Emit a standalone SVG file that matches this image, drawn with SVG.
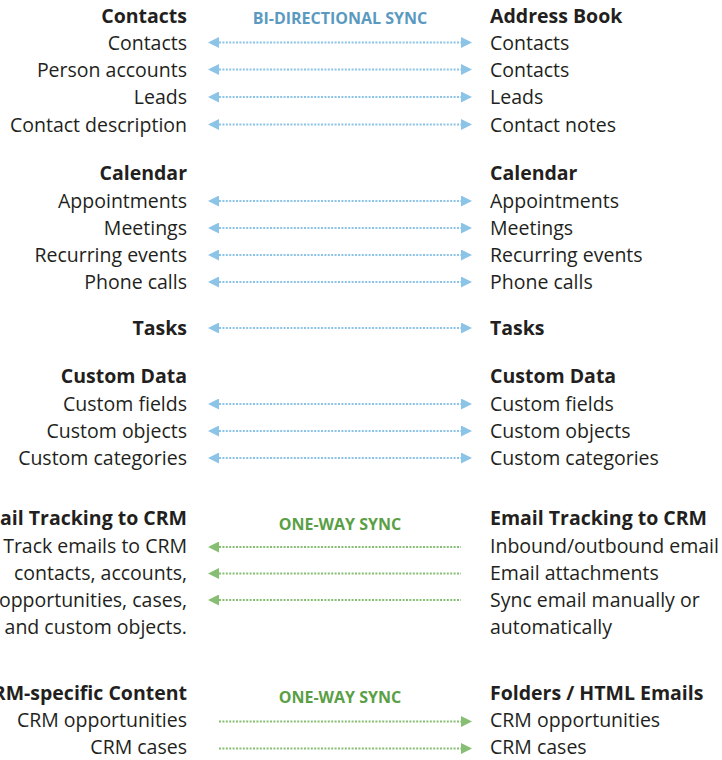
<svg xmlns="http://www.w3.org/2000/svg" width="722" height="760" viewBox="0 0 722 760">
<defs>
<style>
.t{font-family:"Open Sans","Noto Sans","Liberation Sans",sans-serif;font-size:19.5px;fill:#231f20}
.h{font-weight:bold}
.l{text-anchor:end}
.lab{font-family:"Open Sans","Noto Sans","Liberation Sans",sans-serif;font-size:16px;font-weight:bold;text-anchor:middle}
.blue{fill:#5b9ac0}
.green{fill:#5a9f45}
.bl{stroke:#8cc4e8;stroke-width:2.2;stroke-dasharray:2 1.4;fill:none}
.gl{stroke:#86bf73;stroke-width:2.2;stroke-dasharray:2 1.4;fill:none}
.bi{marker-start:url(#ab);marker-end:url(#ab)}
.gL{marker-start:url(#ag)}
.gR{marker-end:url(#ag)}
</style>
<marker id="ab" markerUnits="userSpaceOnUse" markerWidth="11" markerHeight="11" refX="0" refY="5.5" orient="auto-start-reverse"><path d="M0,0 L11,5.5 L0,11 z" fill="#8cc4e8"/></marker>
<marker id="ag" markerUnits="userSpaceOnUse" markerWidth="11" markerHeight="11" refX="0" refY="5.5" orient="auto-start-reverse"><path d="M0,0 L11,5.5 L0,11 z" fill="#86bf73"/></marker>
</defs>
<rect width="722" height="760" fill="#ffffff"/>

<g id="labels">
<text class="lab blue" x="340" y="23.5">BI-DIRECTIONAL SYNC</text>
<text class="lab green" x="340" y="530">ONE-WAY SYNC</text>
<text class="lab green" x="340" y="703">ONE-WAY SYNC</text>
</g>

<g id="contacts-left">
<text class="t h l" x="187" y="23">Contacts</text>
<text class="t l" x="187" y="50">Contacts</text>
<text class="t l" x="187" y="77">Person accounts</text>
<text class="t l" x="187" y="104">Leads</text>
<text class="t l" x="187" y="131.5">Contact description</text>
</g>
<g id="contacts-right">
<text class="t h" x="490" y="23">Address Book</text>
<text class="t" x="490" y="50">Contacts</text>
<text class="t" x="490" y="77">Contacts</text>
<text class="t" x="490" y="104">Leads</text>
<text class="t" x="490" y="131.5">Contact notes</text>
</g>

<g id="calendar-left">
<text class="t h l" x="187" y="180">Calendar</text>
<text class="t l" x="187" y="208">Appointments</text>
<text class="t l" x="187" y="235">Meetings</text>
<text class="t l" x="187" y="262">Recurring events</text>
<text class="t l" x="187" y="289">Phone calls</text>
</g>
<g id="calendar-right">
<text class="t h" x="490" y="180">Calendar</text>
<text class="t" x="490" y="208">Appointments</text>
<text class="t" x="490" y="235">Meetings</text>
<text class="t" x="490" y="262">Recurring events</text>
<text class="t" x="490" y="289">Phone calls</text>
</g>

<g id="tasks-left">
<text class="t h l" x="187" y="335">Tasks</text>
</g>
<g id="tasks-right">
<text class="t h" x="490" y="335">Tasks</text>
</g>

<g id="custom-left">
<text class="t h l" x="187" y="383">Custom Data</text>
<text class="t l" x="187" y="411">Custom fields</text>
<text class="t l" x="187" y="438">Custom objects</text>
<text class="t l" x="187" y="465">Custom categories</text>
</g>
<g id="custom-right">
<text class="t h" x="490" y="383">Custom Data</text>
<text class="t" x="490" y="411">Custom fields</text>
<text class="t" x="490" y="438">Custom objects</text>
<text class="t" x="490" y="465">Custom categories</text>
</g>

<g id="email-left">
<text class="t h l" x="187" y="525">Email Tracking to CRM</text>
<text class="t l" x="187" y="553">Track emails to CRM</text>
<text class="t l" x="187" y="580">contacts, accounts,</text>
<text class="t l" x="187" y="607">opportunities, cases,</text>
<text class="t l" x="187" y="634">and custom objects.</text>
</g>
<g id="email-right">
<text class="t h" x="490" y="525">Email Tracking to CRM</text>
<text class="t" x="490" y="553">Inbound/outbound email</text>
<text class="t" x="490" y="580">Email attachments</text>
<text class="t" x="490" y="607">Sync email manually or</text>
<text class="t" x="490" y="634">automatically</text>
</g>

<g id="crm-left">
<text class="t h l" x="187" y="700">CRM-specific Content</text>
<text class="t l" x="187" y="727">CRM opportunities</text>
<text class="t l" x="187" y="754">CRM cases</text>
</g>
<g id="crm-right">
<text class="t h" x="490" y="700">Folders / HTML Emails</text>
<text class="t" x="490" y="727">CRM opportunities</text>
<text class="t" x="490" y="754">CRM cases</text>
</g>

<g id="connectors">
<line class="bl bi" x1="219" y1="42.5" x2="461" y2="42.5"/>
<line class="bl bi" x1="219" y1="69.5" x2="461" y2="69.5"/>
<line class="bl bi" x1="219" y1="97" x2="461" y2="97"/>
<line class="bl bi" x1="219" y1="124.5" x2="461" y2="124.5"/>
<line class="bl bi" x1="219" y1="201" x2="461" y2="201"/>
<line class="bl bi" x1="219" y1="228" x2="461" y2="228"/>
<line class="bl bi" x1="219" y1="255" x2="461" y2="255"/>
<line class="bl bi" x1="219" y1="282" x2="461" y2="282"/>
<line class="bl bi" x1="219" y1="328" x2="461" y2="328"/>
<line class="bl bi" x1="219" y1="404" x2="461" y2="404"/>
<line class="bl bi" x1="219" y1="431" x2="461" y2="431"/>
<line class="bl bi" x1="219" y1="458" x2="461" y2="458"/>
<line class="gl gL" x1="219" y1="547" x2="461" y2="547"/>
<line class="gl gL" x1="219" y1="573.5" x2="461" y2="573.5"/>
<line class="gl gL" x1="219" y1="600" x2="461" y2="600"/>
<line class="gl gR" x1="219" y1="721.5" x2="461" y2="721.5"/>
<line class="gl gR" x1="219" y1="748.5" x2="461" y2="748.5"/>
</g>
</svg>
